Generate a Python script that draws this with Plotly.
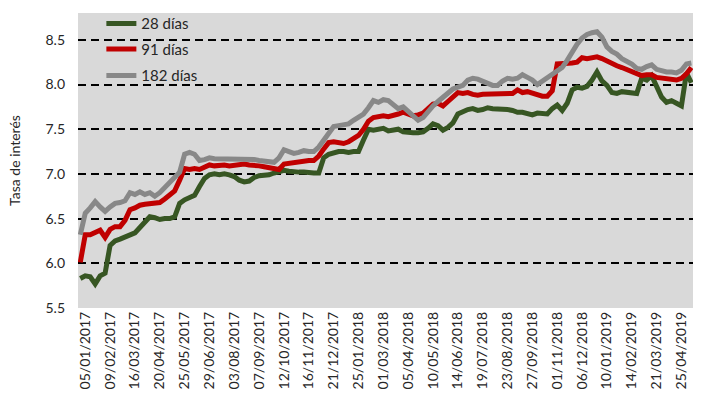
import pandas as pd
import plotly.graph_objects as go

# Weekly observation dates
dates = pd.date_range("2016-12-29", periods=124, freq="7D")

series_names = ["28 días", "91 días", "182 días"]

tasa_28 = [
    5.83, 5.86, 5.85, 5.77, 5.86, 5.89, 6.20, 6.25, 6.27, 6.29,
    6.31, 6.34, 6.40, 6.47, 6.52, 6.51, 6.49, 6.50, 6.50, 6.52,
    6.67, 6.71, 6.73, 6.76, 6.86, 6.95, 6.99, 7.00, 6.99, 7.00,
    6.99, 6.97, 6.93, 6.91, 6.92, 6.96, 6.98, 6.98, 6.99, 7.01,
    7.03, 7.04, 7.03, 7.02, 7.02, 7.02, 7.01, 7.01, 7.01, 7.18,
    7.22, 7.24, 7.25, 7.25, 7.24, 7.25, 7.25, 7.38, 7.50, 7.49,
    7.50, 7.51, 7.48, 7.49, 7.50, 7.47, 7.46, 7.46, 7.46, 7.47,
    7.51, 7.56, 7.54, 7.49, 7.52, 7.57, 7.67, 7.70, 7.72, 7.73,
    7.71, 7.72, 7.74, 7.73, 7.73, 7.73, 7.72, 7.71, 7.69, 7.69,
    7.68, 7.66, 7.68, 7.68, 7.67, 7.73, 7.77, 7.71, 7.79, 7.94,
    7.97, 7.96, 7.98, 8.05, 8.14, 8.04, 7.99, 7.91, 7.90, 7.92,
    7.91, 7.90, 7.90, 8.07, 8.05, 8.10, 7.98, 7.86, 7.80, 7.82,
    7.79, 7.76, 8.13, 8.02,
]

tasa_91 = [
    6.01, 6.32, 6.32, 6.35, 6.37, 6.29, 6.38, 6.41, 6.41, 6.48,
    6.60, 6.62, 6.65, 6.66, 6.67, 6.67, 6.68, 6.72, 6.77, 6.81,
    6.93, 7.06, 7.05, 7.06, 7.05, 7.07, 7.10, 7.09, 7.10, 7.10,
    7.09, 7.10, 7.11, 7.11, 7.10, 7.10, 7.09, 7.08, 7.07, 7.06,
    7.05, 7.11, 7.12, 7.13, 7.14, 7.14, 7.15, 7.15, 7.20, 7.28,
    7.35, 7.36, 7.35, 7.34, 7.36, 7.39, 7.43, 7.50, 7.59, 7.63,
    7.64, 7.65, 7.64, 7.65, 7.67, 7.69, 7.67, 7.65, 7.66, 7.68,
    7.73, 7.78, 7.79, 7.76, 7.81, 7.87, 7.91, 7.90, 7.91, 7.89,
    7.88, 7.89, 7.89, 7.90, 7.90, 7.90, 7.90, 7.90, 7.94, 7.91,
    7.92, 7.90, 7.88, 7.87, 7.87, 7.93, 8.23, 8.23, 8.24, 8.24,
    8.25, 8.30, 8.29, 8.30, 8.31, 8.29, 8.26, 8.23, 8.21, 8.19,
    8.17, 8.15, 8.12, 8.10, 8.11, 8.11, 8.08, 8.07, 8.06, 8.05,
    8.05, 8.07, 8.12, 8.19,
]

tasa_182 = [
    6.32, 6.56, 6.62, 6.69, 6.63, 6.58, 6.63, 6.67, 6.68, 6.70,
    6.79, 6.77, 6.80, 6.77, 6.79, 6.75, 6.79, 6.85, 6.90, 6.95,
    7.02, 7.22, 7.24, 7.22, 7.15, 7.16, 7.18, 7.17, 7.17, 7.17,
    7.17, 7.17, 7.17, 7.17, 7.17, 7.16, 7.15, 7.14, 7.14, 7.13,
    7.18, 7.27, 7.25, 7.23, 7.24, 7.26, 7.25, 7.25, 7.30, 7.37,
    7.46, 7.53, 7.54, 7.55, 7.56, 7.60, 7.64, 7.67, 7.74, 7.82,
    7.80, 7.83, 7.82, 7.78, 7.73, 7.75, 7.70, 7.65, 7.60, 7.63,
    7.70, 7.76, 7.81, 7.86, 7.90, 7.95, 7.97, 7.99, 8.05, 8.07,
    8.06, 8.04, 8.02, 7.99, 7.99, 8.04, 8.07, 8.06, 8.07, 8.11,
    8.08, 8.05, 8.00, 8.04, 8.08, 8.12, 8.15, 8.19, 8.27, 8.37,
    8.45, 8.52, 8.56, 8.58, 8.59, 8.53, 8.42, 8.37, 8.34, 8.29,
    8.26, 8.23, 8.18, 8.17, 8.20, 8.22, 8.17, 8.15, 8.14, 8.14,
    8.13, 8.16, 8.23, 8.24,
]

y_ticks = [5.5, 6.0, 6.5, 7.0, 7.5, 8.0, 8.5]
y_tick_labels = ["5.5", "6.0", "6.5", "7.0", "7.5", "8.0", "8.5"]

colors = ["#375623", "#C00000", "#888888"]
legend_ids = ["legend", "legend2", "legend3"]
font_family = "Lato, 'Noto Sans', sans-serif"

fig = go.Figure()
for name, vals, col, lg in zip(series_names, [tasa_28, tasa_91, tasa_182],
                               colors, legend_ids):
    fig.add_trace(go.Scatter(
        x=dates, y=vals, name=name, mode="lines", legend=lg,
        line=dict(color=col, width=5, shape="linear"),
    ))

legend_style = dict(
    x=0.038, xanchor="left", yanchor="middle",
    bgcolor="rgba(0,0,0,0)",
    font=dict(size=15, color="#262626"),
)
# legend item centres at y = 18, 44, 71 px (plot spans y = 7 .. 308 px)
legend_y = [(308 - 18) / 301, (308 - 44) / 301, (308 - 71) / 301]

fig.update_layout(
    width=704, height=402,
    margin=dict(l=78, r=11, t=7, b=94),
    paper_bgcolor="white",
    plot_bgcolor="#D9D9D9",
    font=dict(family=font_family, size=14, color="#262626"),
    showlegend=True,
    hovermode=False,
    legend=dict(y=legend_y[0], **legend_style),
    legend2=dict(y=legend_y[1], **legend_style),
    legend3=dict(y=legend_y[2], **legend_style),
)

fig.update_xaxes(
    type="date",
    range=["2016-12-25 19:00", "2019-05-11 07:00"],
    tick0="2017-01-05",
    dtick=35 * 86400000,
    tickformat="%d/%m/%Y",
    tickangle=-90,
    tickfont=dict(size=14),
    showgrid=False,
    zeroline=False,
    showline=False,
    ticks="",
)

fig.update_yaxes(
    range=[5.5, 8.8],
    tickvals=y_ticks,
    ticktext=y_tick_labels,
    tickfont=dict(size=14),
    showgrid=True,
    gridcolor="black",
    gridwidth=2,
    griddash="8px,5px",
    zeroline=False,
    showline=False,
    ticks="",
    ticklabelstandoff=12,
    title=dict(text="Tasa de interés", font=dict(size=14), standoff=21),
)

fig.write_html(
    "out.html",
    config={"displayModeBar": False, "staticPlot": True},
    post_script="document.body.style.margin='0';",
)
